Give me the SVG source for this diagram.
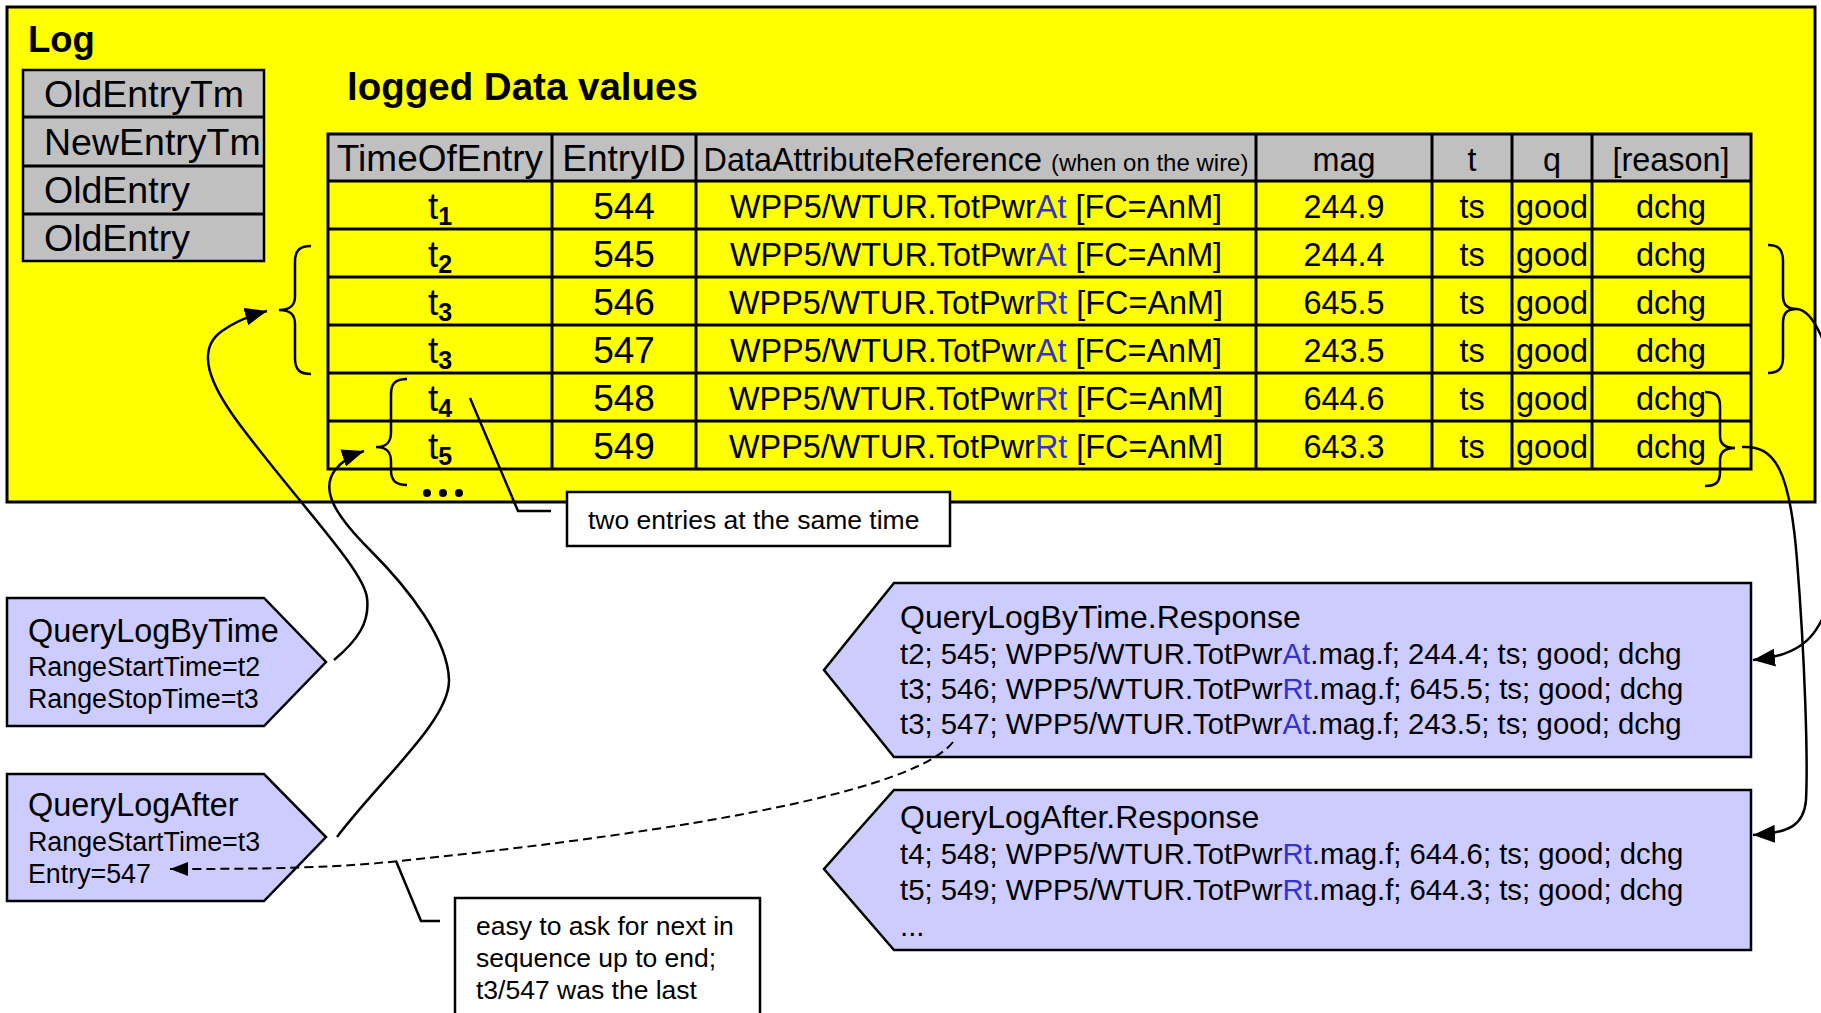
<svg xmlns="http://www.w3.org/2000/svg" width="1821" height="1013" viewBox="0 0 1821 1013">
<defs>
<style>
text{font-family:"Liberation Sans",Arial,sans-serif;fill:#000}
.bold{font-weight:bold}
.f37{font-size:37.5px}
.f36{font-size:37px}
.f32{font-size:32.4px}
.f29{font-size:29.3px}
.f26{font-size:26.5px}
.f24{font-size:24px}
.sub{font-size:25px;font-weight:bold}
.blue{fill:#3333CC}
.box{stroke:#000;stroke-width:2.5}
.grid{stroke:#000;stroke-width:3;fill:none}
.ln{stroke:#000;stroke-width:2.5;fill:none}
.dash{stroke:#000;stroke-width:2;fill:none;stroke-dasharray:9 5}
.mid{text-anchor:middle}
</style>
<marker id="arr" markerUnits="userSpaceOnUse" markerWidth="24" markerHeight="18" refX="22" refY="9" orient="auto">
<path d="M0,0 L22,9 L0,18 z" fill="#000"/>
</marker>
<marker id="arrs" markerUnits="userSpaceOnUse" markerWidth="20" markerHeight="16" refX="18" refY="8" orient="auto">
<path d="M0,1 L18,8 L0,15 z" fill="#000"/>
</marker>
</defs>

<g id="log">
<rect x="7" y="7" width="1808" height="495" fill="#FFFF00" stroke="#000" stroke-width="3"/>
<text x="28" y="52" class="bold" font-size="36.5">Log</text>
<text x="347" y="100" class="bold" font-size="38.5">logged Data values</text>
</g>

<g id="log-attributes">
<rect x="23" y="70" width="241" height="191" fill="#C0C0C0" class="box"/>
<line x1="23" y1="117" x2="264" y2="117" class="grid"/>
<line x1="23" y1="166" x2="264" y2="166" class="grid"/>
<line x1="23" y1="214" x2="264" y2="214" class="grid"/>
<text x="44" y="107" class="f37">OldEntryTm</text>
<text x="44" y="155" class="f37">NewEntryTm</text>
<text x="44" y="203" class="f37">OldEntry</text>
<text x="44" y="251" class="f37">OldEntry</text>
</g>

<g id="data-table">
<rect x="328" y="134" width="1423" height="47" fill="#C0C0C0"/>
<rect x="328" y="181" width="1423" height="288" fill="#FFFF00"/>
<rect x="328" y="134" width="1423" height="335" class="grid"/>
<line x1="328" y1="181" x2="1751" y2="181" class="grid"/>
<line x1="328" y1="229" x2="1751" y2="229" class="grid"/>
<line x1="328" y1="277" x2="1751" y2="277" class="grid"/>
<line x1="328" y1="325" x2="1751" y2="325" class="grid"/>
<line x1="328" y1="373" x2="1751" y2="373" class="grid"/>
<line x1="328" y1="421" x2="1751" y2="421" class="grid"/>
<line x1="552" y1="134" x2="552" y2="469" class="grid"/>
<line x1="696" y1="134" x2="696" y2="469" class="grid"/>
<line x1="1256" y1="134" x2="1256" y2="469" class="grid"/>
<line x1="1432" y1="134" x2="1432" y2="469" class="grid"/>
<line x1="1512" y1="134" x2="1512" y2="469" class="grid"/>
<line x1="1592" y1="134" x2="1592" y2="469" class="grid"/>

<text x="440" y="171" class="f36 mid">TimeOfEntry</text>
<text x="624" y="171" class="f36 mid">EntryID</text>
<text x="976" y="171" class="f32 mid">DataAttributeReference <tspan class="f24">(when on the wire)</tspan></text>
<text x="1344" y="171" class="f32 mid">mag</text>
<text x="1472" y="171" class="f32 mid">t</text>
<text x="1552" y="171" class="f32 mid">q</text>
<text x="1671" y="171" class="f32 mid">[reason]</text>

<text x="440" y="219" class="f36 mid">t<tspan class="sub" dy="6">1</tspan></text>
<text x="624" y="219" class="f36 mid">544</text>
<text x="976" y="218" class="f32 mid">WPP5/WTUR.TotPwr<tspan class="blue">At</tspan> [FC=AnM]</text>
<text x="1344" y="218" class="f32 mid">244.9</text>
<text x="1472" y="218" class="f32 mid">ts</text>
<text x="1552" y="218" class="f32 mid">good</text>
<text x="1671" y="218" class="f32 mid">dchg</text>

<text x="440" y="267" class="f36 mid">t<tspan class="sub" dy="6">2</tspan></text>
<text x="624" y="267" class="f36 mid">545</text>
<text x="976" y="266" class="f32 mid">WPP5/WTUR.TotPwr<tspan class="blue">At</tspan> [FC=AnM]</text>
<text x="1344" y="266" class="f32 mid">244.4</text>
<text x="1472" y="266" class="f32 mid">ts</text>
<text x="1552" y="266" class="f32 mid">good</text>
<text x="1671" y="266" class="f32 mid">dchg</text>

<text x="440" y="315" class="f36 mid">t<tspan class="sub" dy="6">3</tspan></text>
<text x="624" y="315" class="f36 mid">546</text>
<text x="976" y="314" class="f32 mid">WPP5/WTUR.TotPwr<tspan class="blue">Rt</tspan> [FC=AnM]</text>
<text x="1344" y="314" class="f32 mid">645.5</text>
<text x="1472" y="314" class="f32 mid">ts</text>
<text x="1552" y="314" class="f32 mid">good</text>
<text x="1671" y="314" class="f32 mid">dchg</text>

<text x="440" y="363" class="f36 mid">t<tspan class="sub" dy="6">3</tspan></text>
<text x="624" y="363" class="f36 mid">547</text>
<text x="976" y="362" class="f32 mid">WPP5/WTUR.TotPwr<tspan class="blue">At</tspan> [FC=AnM]</text>
<text x="1344" y="362" class="f32 mid">243.5</text>
<text x="1472" y="362" class="f32 mid">ts</text>
<text x="1552" y="362" class="f32 mid">good</text>
<text x="1671" y="362" class="f32 mid">dchg</text>

<text x="440" y="411" class="f36 mid">t<tspan class="sub" dy="6">4</tspan></text>
<text x="624" y="411" class="f36 mid">548</text>
<text x="976" y="410" class="f32 mid">WPP5/WTUR.TotPwr<tspan class="blue">Rt</tspan> [FC=AnM]</text>
<text x="1344" y="410" class="f32 mid">644.6</text>
<text x="1472" y="410" class="f32 mid">ts</text>
<text x="1552" y="410" class="f32 mid">good</text>
<text x="1671" y="410" class="f32 mid">dchg</text>

<text x="440" y="459" class="f36 mid">t<tspan class="sub" dy="6">5</tspan></text>
<text x="624" y="459" class="f36 mid">549</text>
<text x="976" y="458" class="f32 mid">WPP5/WTUR.TotPwr<tspan class="blue">Rt</tspan> [FC=AnM]</text>
<text x="1344" y="458" class="f32 mid">643.3</text>
<text x="1472" y="458" class="f32 mid">ts</text>
<text x="1552" y="458" class="f32 mid">good</text>
<text x="1671" y="458" class="f32 mid">dchg</text>

<circle cx="427" cy="493" r="4"/>
<circle cx="443" cy="493" r="4"/>
<circle cx="459" cy="493" r="4"/>
</g>

<g id="braces">
<path class="ln" d="M311 246 C300 246 295 250 295 262 L295 296 C295 306 290 310 279 310 C290 310 295 314 295 324 L295 358 C295 370 300 374 311 374"/>
<path class="ln" d="M1768 245 C1779 245 1783 250 1783 261 L1783 295 C1783 305 1787 309 1797 309 C1787 309 1783 313 1783 323 L1783 357 C1783 368 1779 373 1768 373"/>
<path class="ln" d="M407 379 C396 379 391 383 391 394 L391 432 C391 442 387 447 376 447 C387 447 391 452 391 462 L391 470 C391 481 396 485 407 485"/>
<path class="ln" d="M1705 392 C1716 392 1720 396 1720 406 L1720 436 C1720 444 1725 448 1735 448 C1725 448 1720 452 1720 460 L1720 472 C1720 482 1716 486 1705 486"/>
</g>

<g id="note-same-time">
<rect x="567" y="492" width="383" height="54" fill="#FFFFFF" class="box"/>
<text x="588" y="529" class="f26">two entries at the same time</text>
</g>

<g id="note-next">
<rect x="455" y="898" width="305" height="130" fill="#FFFFFF" class="box"/>
<text x="476" y="935" class="f26">easy to ask for next in</text>
<text x="476" y="967" class="f26">sequence up to end;</text>
<text x="476" y="999" class="f26">t3/547 was the last</text>
</g>

<g id="query-log-by-time">
<path d="M7 598 L264 598 L326 662 L264 726 L7 726 Z" fill="#CCCCFF" class="box"/>
<text x="28" y="642" class="f32">QueryLogByTime</text>
<text x="28" y="676" font-size="26.8">RangeStartTime=t2</text>
<text x="28" y="708" font-size="26.8">RangeStopTime=t3</text>
</g>

<g id="query-log-after">
<path d="M7 774 L264 774 L326 837 L264 901 L7 901 Z" fill="#CCCCFF" class="box"/>
<text x="28" y="816" class="f32">QueryLogAfter</text>
<text x="28" y="851" font-size="26.8">RangeStartTime=t3</text>
<text x="28" y="883" font-size="26.8">Entry=547</text>
</g>

<g id="query-log-by-time-response">
<path d="M894 583 L1751 583 L1751 757 L894 757 L824 670 Z" fill="#CCCCFF" class="box"/>
<text x="900" y="628" font-size="32">QueryLogByTime.Response</text>
<text x="900" y="664" class="f29">t2; 545; WPP5/WTUR.TotPwr<tspan class="blue">At</tspan>.mag.f; 244.4; ts; good; dchg</text>
<text x="900" y="699" class="f29">t3; 546; WPP5/WTUR.TotPwr<tspan class="blue">Rt</tspan>.mag.f; 645.5; ts; good; dchg</text>
<text x="900" y="734" class="f29">t3; 547; WPP5/WTUR.TotPwr<tspan class="blue">At</tspan>.mag.f; 243.5; ts; good; dchg</text>
</g>

<g id="query-log-after-response">
<path d="M894 790 L1751 790 L1751 950 L894 950 L824 869 Z" fill="#CCCCFF" class="box"/>
<text x="900" y="828" font-size="32">QueryLogAfter.Response</text>
<text x="900" y="864" class="f29">t4; 548; WPP5/WTUR.TotPwr<tspan class="blue">Rt</tspan>.mag.f; 644.6; ts; good; dchg</text>
<text x="900" y="900" class="f29">t5; 549; WPP5/WTUR.TotPwr<tspan class="blue">Rt</tspan>.mag.f; 644.3; ts; good; dchg</text>
<text x="900" y="936" class="f29">...</text>
</g>

<g id="connectors">
<path class="ln" marker-end="url(#arr)" d="M334 660 C358 640 370 622 367 598 C364 570 300 505 240 425 C210 385 195 350 222 331 C235 322 248 316 267 311"/>
<path class="ln" marker-end="url(#arr)" d="M337 837 C380 780 450 720 449 680 C448 640 410 590 370 550 C335 515 320 490 335 470 C342 461 352 455 364 451"/>
<path class="ln" marker-end="url(#arr)" d="M1797 309 C1830 312 1860 450 1835 580 C1822 640 1800 655 1753 660"/>
<path class="ln" marker-end="url(#arr)" d="M1742 447 C1775 445 1790 470 1797 560 C1805 660 1808 760 1806 800 C1804 825 1790 833 1753 835"/>
<path class="dash" marker-end="url(#arrs)" d="M953 742 C915 790 700 830 400 861 C340 867 290 869 170 869"/>
<polyline class="ln" points="470,398 518,511 551,511"/>
<polyline class="ln" points="396,861 421,921 440,921"/>
</g>
</svg>
